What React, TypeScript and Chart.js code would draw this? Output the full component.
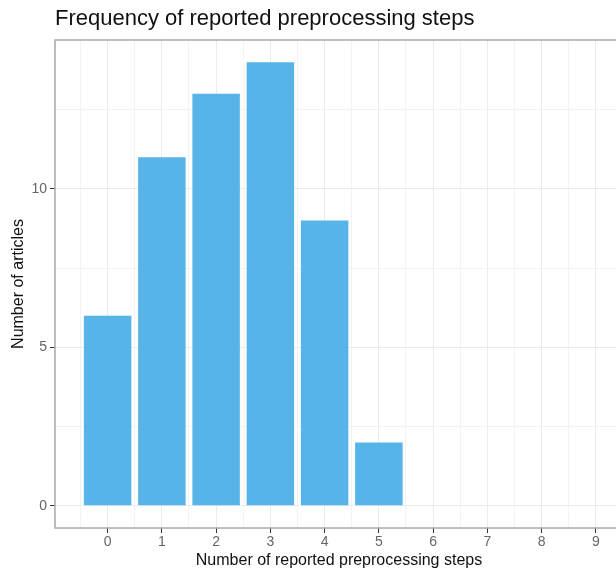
import React, { useEffect, useRef } from "react";
import { Chart, registerables } from "chart.js";

Chart.register(...registerables);

const chartTitle = "Frequency of reported preprocessing steps";
const xAxisTitle = "Number of reported preprocessing steps";
const yAxisTitle = "Number of articles";
const stepCounts = [0, 1, 2, 3, 4, 5];
const articleCounts = [6, 11, 13, 14, 9, 2];
const xTickLabels = ["0", "1", "2", "3", "4", "5", "6", "7", "8", "9"];
const yTickValues = [0, 5, 10];

const FONT = "'Liberation Sans', Arial, Helvetica, sans-serif";

const panelBorder = {
  id: "panelBorder",
  afterDatasetsDraw(chart: any) {
    const { ctx, chartArea } = chart;
    ctx.save();
    ctx.strokeStyle = "#a8a8a8";
    ctx.lineWidth = 1.5;
    ctx.strokeRect(
      chartArea.left,
      chartArea.top,
      chartArea.right - chartArea.left,
      chartArea.bottom - chartArea.top
    );
    ctx.restore();
  },
};

export default function App() {
  const canvasRef = useRef<HTMLCanvasElement | null>(null);

  useEffect(() => {
    const canvas = canvasRef.current;
    if (!canvas) return;
    Chart.defaults.font.family = FONT;

    const isMajor = (v: number) => Math.abs(v - Math.round(v)) < 1e-9;

    const chart = new Chart(canvas, {
      type: "bar",
      data: {
        datasets: [
          {
            data: stepCounts.map((s, i) => ({ x: s, y: articleCounts[i] })),
            backgroundColor: "#56B4E9",
            borderWidth: 0,
            barPercentage: 0.875,
            categoryPercentage: 2,
          },
        ],
      },
      options: {
        animation: false,
        responsive: false,
        devicePixelRatio: 1,
        layout: { padding: { left: 0, top: 0, right: 17, bottom: 0 } },
        plugins: {
          legend: { display: false },
          tooltip: { enabled: false },
          title: {
            display: true,
            text: chartTitle,
            align: "start",
            fullSize: false,
            color: "#111111",
            font: { size: 22, weight: "normal", family: FONT, lineHeight: 1.2 },
            padding: { top: 6, bottom: 7.6 },
          },
        },
        scales: {
          x: {
            type: "linear",
            min: -0.97,
            max: 9.5,
            offset: false,
            afterFit: (scale: any) => {
              scale.height = 43;
            },
            ticks: {
              stepSize: 0.5,
              includeBounds: false,
              autoSkip: false,
              maxRotation: 0,
              minRotation: 0,
              padding: 1,
              color: "#666666",
              font: { size: 14, family: FONT },
              callback: (value: any) => {
                const v = Number(value);
                if (isMajor(v) && v >= 0 && v <= 9) return xTickLabels[Math.round(v)];
                return "";
              },
            },
            grid: {
              offset: false,
              drawTicks: true,
              tickLength: 5,
              color: (ctx: any) =>
                ctx.tick && isMajor(ctx.tick.value) ? "#ebebeb" : "#f3f3f3",
              tickColor: (ctx: any) =>
                ctx.tick && isMajor(ctx.tick.value) && ctx.tick.value >= 0 && ctx.tick.value <= 9
                  ? "#333333"
                  : "rgba(0,0,0,0)",
            },
            border: { display: false },
            title: {
              display: true,
              text: xAxisTitle,
              color: "#111111",
              font: { size: 16, family: FONT, lineHeight: 1.2 },
              padding: { top: 0, bottom: 0.4 },
            },
          },
          y: {
            type: "linear",
            min: -0.7,
            max: 14.7,
            afterFit: (scale: any) => {
              scale.width = 55;
            },
            ticks: {
              stepSize: 2.5,
              includeBounds: false,
              autoSkip: false,
              padding: 3,
              color: "#666666",
              font: { size: 14, family: FONT },
              callback: (value: any) => {
                const v = Number(value);
                return yTickValues.includes(v) ? String(v) : "";
              },
            },
            grid: {
              drawTicks: true,
              tickLength: 5,
              color: (ctx: any) =>
                ctx.tick && yTickValues.includes(ctx.tick.value) ? "#ebebeb" : "#f3f3f3",
              tickColor: (ctx: any) =>
                ctx.tick && yTickValues.includes(ctx.tick.value) ? "#333333" : "rgba(0,0,0,0)",
            },
            border: { display: false },
            title: {
              display: true,
              text: yAxisTitle,
              color: "#111111",
              font: { size: 16, family: FONT, lineHeight: 1.2 },
              padding: { top: 9.4, bottom: 0 },
            },
          },
        },
      },
      plugins: [panelBorder],
    } as any);

    return () => {
      chart.destroy();
    };
  }, []);

  return (
    <div
      style={{
        position: "fixed",
        left: 0,
        top: 0,
        width: 616,
        height: 571,
        overflow: "hidden",
        background: "#ffffff",
      }}
    >
      <canvas
        ref={canvasRef}
        width={640}
        height={571}
        style={{ display: "block", width: 640, height: 571 }}
      />
    </div>
  );
}
